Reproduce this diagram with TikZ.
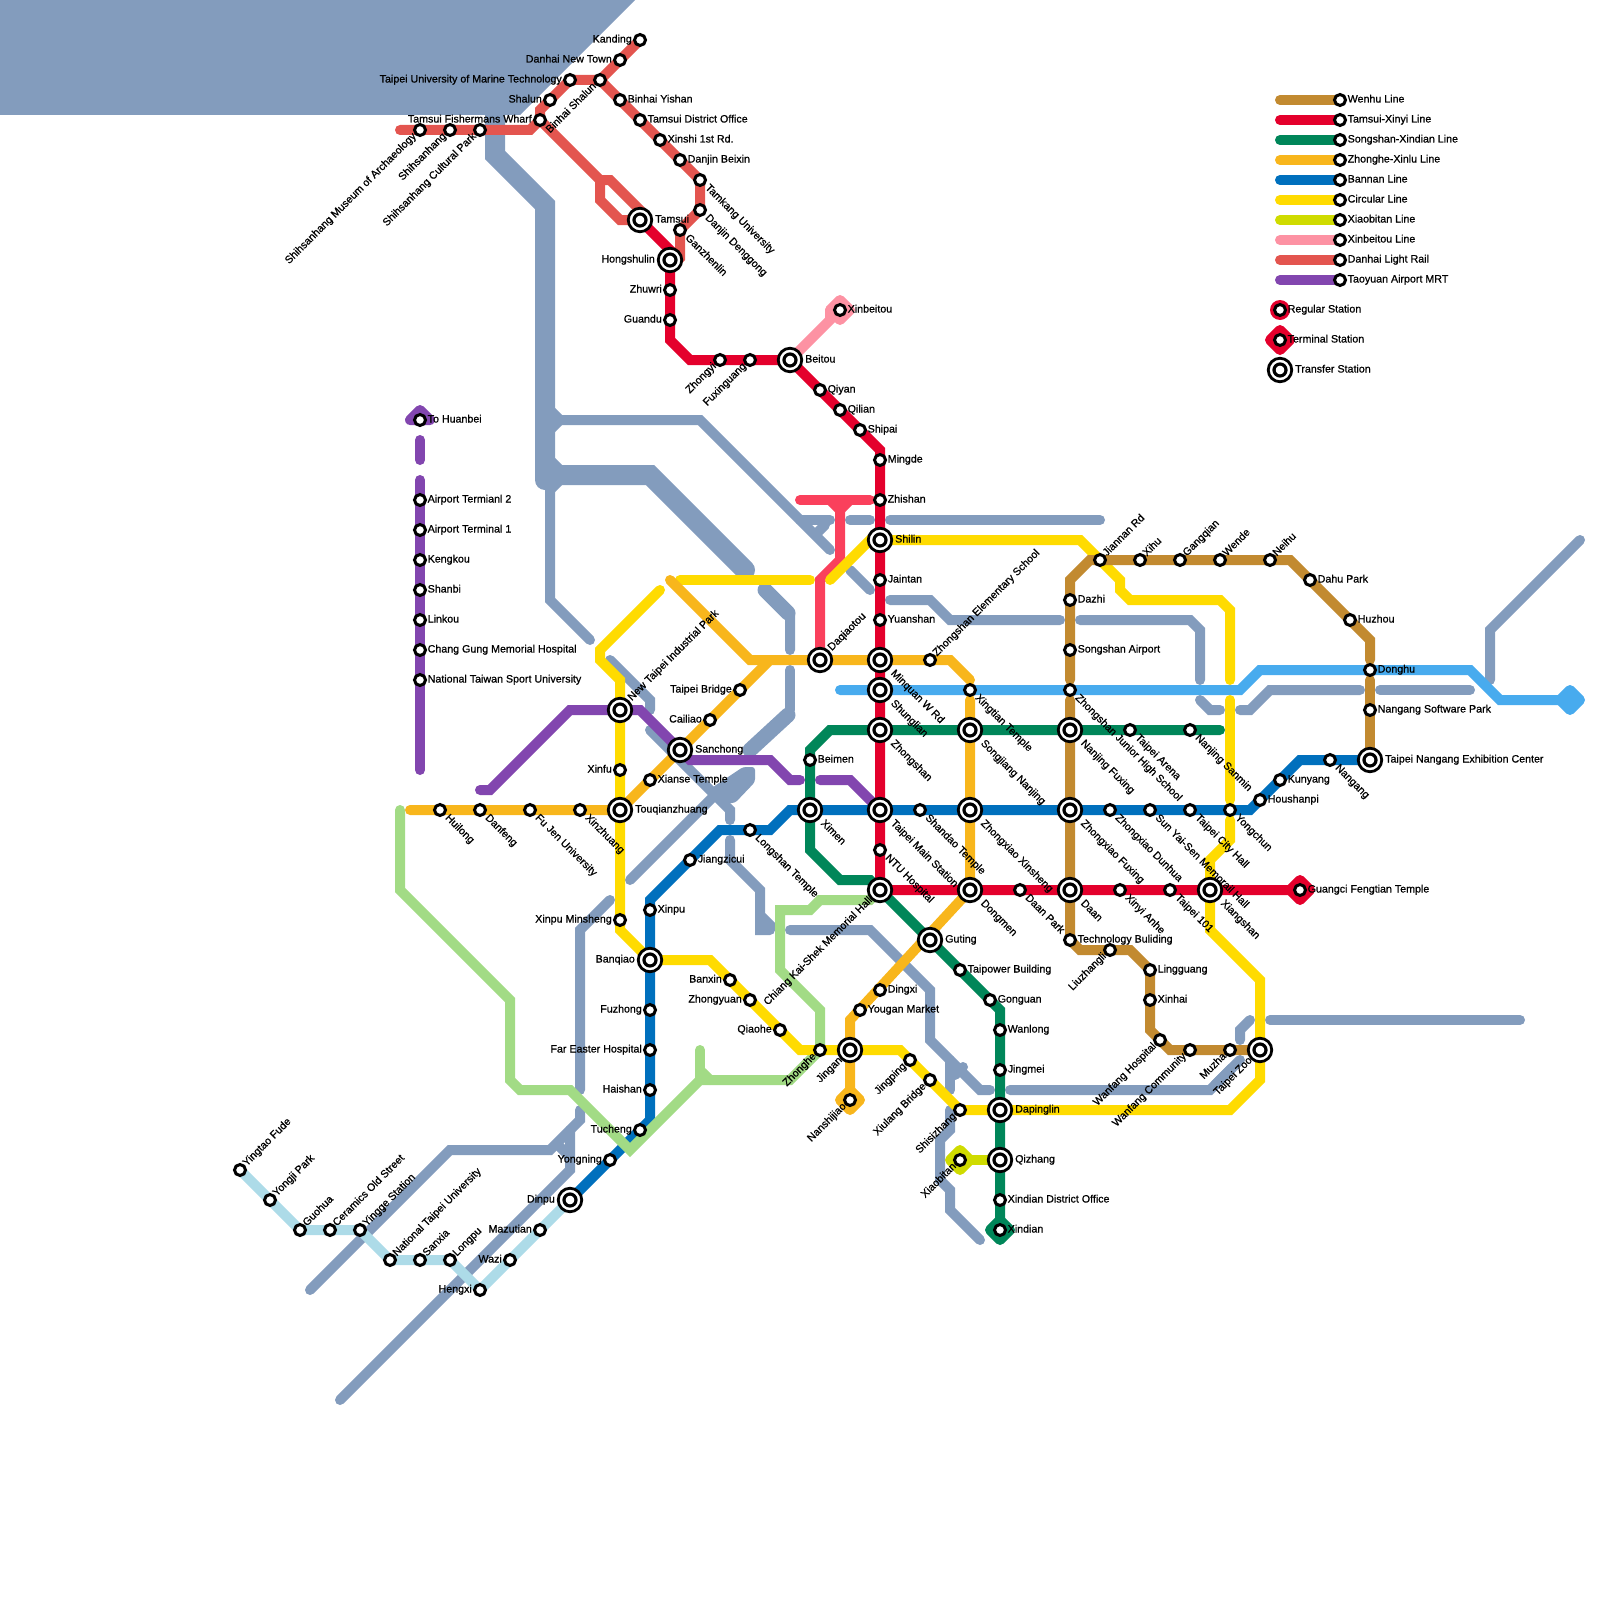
\documentclass[tikz,border=0pt]{standalone}
\usepackage{fontspec}
\setmainfont{Liberation Sans}[FakeBold=0.8]
\definecolor{cbrown}{HTML}{C28A30}
\definecolor{cred}{HTML}{E4002C}
\definecolor{cgreen}{HTML}{008659}
\definecolor{corange}{HTML}{F8B61C}
\definecolor{cblue}{HTML}{0070BD}
\definecolor{cyellow}{HTML}{FFDB00}
\definecolor{clime}{HTML}{CFDB00}
\definecolor{cpink}{HTML}{FD92A3}
\definecolor{cdanhai}{HTML}{E3554F}
\definecolor{cpurple}{HTML}{8246AF}
\definecolor{csky}{HTML}{48ABEE}
\definecolor{cpale}{HTML}{ADDBE8}
\definecolor{cwanda}{HTML}{A2DB85}
\definecolor{crose}{HTML}{FA405C}
\definecolor{criver}{HTML}{839CBD}
\tikzset{
  ln/.style={line width=10pt,line cap=round,line join=miter,miter limit=4},
  rv/.style={ln,criver},
  rvw/.style={line width=20pt,line cap=round,line join=miter,criver},
  rvm/.style={line width=15pt,line cap=round,line join=miter,criver},
  stns/.style={circle,draw=black,fill=white,line width=3pt,minimum size=11pt,inner sep=0pt},
  stnt/.style={circle,draw=black,fill=white,line width=2.8pt,minimum size=23.5pt,inner sep=0pt},
  stncore/.style={circle,draw=black,fill=white,line width=3.2pt,minimum size=12pt,inner sep=0pt},
  lab/.style={inner sep=0pt,text height=7pt,text depth=2pt,font=\fontsize{10.67}{11}\selectfont,text=black},
  labRs/.style={lab,shift={(7.5,0)},anchor=west},
  labRt/.style={lab,shift={(15,0)},anchor=west},
  labLs/.style={lab,shift={(-8,0)},anchor=east},
  labLt/.style={lab,shift={(-15,0)},anchor=east},
  labURs/.style={lab,shift={(5,-5)},rotate=45,anchor=west},
  labURt/.style={lab,shift={(10,-10.5)},rotate=45,anchor=west},
  labDRs/.style={lab,shift={(6.5,6.5)},rotate=-45,anchor=west},
  labDRt/.style={lab,shift={(12,12)},rotate=-45,anchor=west},
  labDLs/.style={lab,shift={(-5,5)},rotate=45,anchor=east},
  labDLt/.style={lab,shift={(-9,9)},rotate=45,anchor=east},
  term/.style={line width=10pt,line join=round,fill}
}
\newcommand{\termd}[2]{\draw[term,#1] ([shift={(-10,0)}]#2) -- ([shift={(0,-10)}]#2) -- ([shift={(10,0)}]#2) -- ([shift={(0,10)}]#2) -- cycle;}
\newcommand{\passA}[6]{\coordinate (#1) at (#2,#3);}
\newcommand{\passB}[6]{\node[stn#4] (#1) at (#2,#3) {};\if t#4\node[stncore] (#1-c) at (#2,#3) {};\fi\node[lab#5#4] (#1-l) at (#2,#3) {#6};}
\newcommand{\allstn}{%
% Danhai
\stn{tfw}{540}{120}{s}{L}{Tamsui Fishermans Wharf}
\stn{shalun}{550}{100}{s}{L}{Shalun}
\stn{tumt}{570}{80}{s}{L}{Taipei University of Marine Technology}
\stn{binhaish}{600}{80}{s}{DL}{Binhai Shalun}
\stn{dnt}{620}{60}{s}{L}{Danhai New Town}
\stn{kanding}{640}{40}{s}{L}{Kanding}
\stn{binhaiy}{620}{100}{s}{R}{Binhai Yishan}
\stn{tdo}{640}{120}{s}{R}{Tamsui District Office}
\stn{xinshi}{660}{140}{s}{R}{Xinshi 1st Rd.}
\stn{beixin}{680}{160}{s}{R}{Danjin Beixin}
\stn{tamkang}{700}{180}{s}{DR}{Tamkang University}
\stn{denggong}{700}{210}{s}{DR}{Danjin Denggong}
\stn{ganzhen}{680}{230}{s}{DR}{Ganzhenlin}
\stn{shmuseum}{420}{130}{s}{DL}{Shihsanhang Museum of Archaeology}
\stn{shsh}{450}{130}{s}{DL}{Shihsanhang}
\stn{shcp}{480}{130}{s}{DL}{Shihsanhang Cultural Park}
% Red
\stn{tamsui}{640}{220}{t}{R}{Tamsui}
\stn{hongshulin}{670}{260}{t}{L}{Hongshulin}
\stn{zhuwri}{670}{290}{s}{L}{Zhuwri}
\stn{guandu}{670}{320}{s}{L}{Guandu}
\stn{zhongyi}{720}{360}{s}{DL}{Zhongyi}
\stn{fuxing}{750}{360}{s}{DL}{Fuxinguang}
\stn{beitou}{790}{360}{t}{R}{Beitou}
\stn{qiyan}{820}{390}{s}{R}{Qiyan}
\stn{qilian}{840}{410}{s}{R}{Qilian}
\stn{shipai}{860}{430}{s}{R}{Shipai}
\stn{mingde}{880}{460}{s}{R}{Mingde}
\stn{zhishan}{880}{500}{s}{R}{Zhishan}
\stn{shilin}{880}{540}{t}{R}{Shilin}
\stn{jaintan}{880}{580}{s}{R}{Jaintan}
\stn{yuanshan}{880}{620}{s}{R}{Yuanshan}
\stn{minquan}{880}{660}{t}{DR}{Minquan W Rd}
\stn{shunglian}{880}{690}{t}{DR}{Shunglian}
\stn{zhongshan}{880}{730}{t}{DR}{Zhongshan}
\stn{tms}{880}{810}{t}{DR}{Taipei Main Station}
\stn{ntu}{880}{850}{s}{DR}{NTU Hospital}
\stn{cks}{880}{890}{t}{DL}{Chiang Kai-Shek Memorial Hall}
\stn{dongmen}{970}{890}{t}{DR}{Dongmen}
\stn{daanpark}{1020}{890}{s}{DR}{Daan Park}
\stn{daan}{1070}{890}{t}{DR}{Daan}
\stn{xinyi}{1120}{890}{s}{DR}{Xinyi Anhe}
\stn{tp101}{1170}{890}{s}{DR}{Taipei 101}
\stn{xiangshan}{1210}{890}{t}{DR}{Xiangshan}
\stn{guangci}{1300}{890}{s}{R}{Guangci Fengtian Temple}
% Blue
\stn{dinpu}{570}{1200}{t}{L}{Dinpu}
\stn{yongning}{610}{1160}{s}{L}{Yongning}
\stn{tucheng}{640}{1130}{s}{L}{Tucheng}
\stn{haishan}{650}{1090}{s}{L}{Haishan}
\stn{fareast}{650}{1050}{s}{L}{Far Easter Hospital}
\stn{fuzhong}{650}{1010}{s}{L}{Fuzhong}
\stn{banqiao}{650}{960}{t}{L}{Banqiao}
\stn{xinpu}{650}{910}{s}{R}{Xinpu}
\stn{jiangzicui}{690}{860}{s}{R}{Jiangzicui}
\stn{longshan}{750}{830}{s}{DR}{Longshan Temple}
\stn{ximen}{810}{810}{t}{DR}{Ximen}
\stn{shandao}{920}{810}{s}{DR}{Shandao Temple}
\stn{zxxs}{970}{810}{t}{DR}{Zhongxiao Xinsheng}
\stn{zxfx}{1070}{810}{t}{DR}{Zhongxiao Fuxing}
\stn{zxdh}{1110}{810}{s}{DR}{Zhongxiao Dunhua}
\stn{sys}{1150}{810}{s}{DR}{Sun Yai-Sen Memorail Hall}
\stn{cityhall}{1190}{810}{s}{DR}{Taipei City Hall}
\stn{yongchun}{1230}{810}{s}{DR}{Yongchun}
\stn{houshanpi}{1260}{800}{s}{R}{Houshanpi}
\stn{kunyang}{1280}{780}{s}{R}{Kunyang}
\stn{nangang}{1330}{760}{s}{DR}{Nangang}
\stn{tnec}{1370}{760}{t}{R}{Taipei Nangang Exhibition Center}
% Orange
\stn{huilong}{440}{810}{s}{DR}{Huilong}
\stn{danfeng}{480}{810}{s}{DR}{Danfeng}
\stn{fujen}{530}{810}{s}{DR}{Fu Jen University}
\stn{xinzhuang}{580}{810}{s}{DR}{Xinzhuang}
\stn{touqian}{620}{810}{t}{R}{Touqianzhuang}
\stn{xianse}{650}{780}{s}{R}{Xianse Temple}
\stn{sanchong}{680}{750}{t}{R}{Sanchong}
\stn{cailiao}{710}{720}{s}{L}{Cailiao}
\stn{tpbridge}{740}{690}{s}{L}{Taipei Bridge}
\stn{daqiaotou}{820}{660}{t}{UR}{Daqiaotou}
\stn{zses}{930}{660}{s}{UR}{Zhongshan Elementary School}
\stn{xingtian}{970}{690}{s}{DR}{Xingtian Temple}
\stn{songjiang}{970}{730}{t}{DR}{Songjiang Nanjing}
\stn{guting}{930}{940}{t}{R}{Guting}
\stn{dingxi}{880}{990}{s}{R}{Dingxi}
\stn{yougan}{860}{1010}{s}{R}{Yougan Market}
\stn{jingan}{850}{1050}{t}{DL}{Jingan}
\stn{nanshijiao}{850}{1100}{s}{DL}{Nanshijiao}
% Yellow
\stn{ntip}{620}{710}{t}{UR}{New Taipei Industrial Park}
\stn{xinfu}{620}{770}{s}{L}{Xinfu}
\stn{xpms}{620}{920}{s}{L}{Xinpu Minsheng}
\stn{banxin}{730}{980}{s}{L}{Banxin}
\stn{zhongyuan}{750}{1000}{s}{L}{Zhongyuan}
\stn{qiaohe}{780}{1030}{s}{L}{Qiaohe}
\stn{zhonghe}{820}{1050}{s}{DL}{Zhonghe}
\stn{jingping}{910}{1060}{s}{DL}{Jingping}
\stn{xiulang}{930}{1080}{s}{DL}{Xiulang Bridge}
\stn{shisizhang}{960}{1110}{s}{DL}{Shisizhang}
\stn{dapinglin}{1000}{1110}{t}{R}{Dapinglin}
\stn{tpzoo}{1260}{1050}{t}{DL}{Taipei Zoo}
\stn{jiannan}{1100}{560}{s}{UR}{Jiannan Rd}
% Green
\stn{beimen}{810}{760}{s}{R}{Beimen}
\stn{njfx}{1070}{730}{t}{DR}{Nanjing Fuxing}
\stn{arena}{1130}{730}{s}{DR}{Taipei Arena}
\stn{sanmin}{1190}{730}{s}{DR}{Nanjing Sanmin}
\stn{taipower}{960}{970}{s}{R}{Taipower Building}
\stn{gonguan}{990}{1000}{s}{R}{Gonguan}
\stn{wanlong}{1000}{1030}{s}{R}{Wanlong}
\stn{jingmei}{1000}{1070}{s}{R}{Jingmei}
\stn{qizhang}{1000}{1160}{t}{R}{Qizhang}
\stn{xddo}{1000}{1200}{s}{R}{Xindian District Office}
\stn{xindian}{1000}{1230}{s}{R}{Xindian}
\stn{xiaobitan}{960}{1160}{s}{DL}{Xiaobitan}
% Brown
\stn{xihu}{1140}{560}{s}{UR}{Xihu}
\stn{gangqian}{1180}{560}{s}{UR}{Gangqian}
\stn{wende}{1220}{560}{s}{UR}{Wende}
\stn{neihu}{1270}{560}{s}{UR}{Neihu}
\stn{dahu}{1310}{580}{s}{R}{Dahu Park}
\stn{huzhou}{1350}{620}{s}{R}{Huzhou}
\stn{donghu}{1370}{670}{s}{R}{Donghu}
\stn{nsp}{1370}{710}{s}{R}{Nangang Software Park}
\stn{dazhi}{1070}{600}{s}{R}{Dazhi}
\stn{airport}{1070}{650}{s}{R}{Songshan Airport}
\stn{zsjh}{1070}{690}{s}{DR}{Zhongshan Junior High School}
\stn{tech}{1070}{940}{s}{R}{Technology Buliding}
\stn{liuzhang}{1110}{950}{s}{DL}{Liuzhangli}
\stn{lingguang}{1150}{970}{s}{R}{Lingguang}
\stn{xinhai}{1150}{1000}{s}{R}{Xinhai}
\stn{wfhosp}{1160}{1040}{s}{DL}{Wanfang Hospital}
\stn{wfcomm}{1190}{1050}{s}{DL}{Wanfang Community}
\stn{muzha}{1230}{1050}{s}{DL}{Muzha}
\stn{xinbeitou}{840}{310}{s}{R}{Xinbeitou}
% Purple
\stn{huanbei}{420}{420}{s}{R}{To Huanbei}
\stn{t2}{420}{500}{s}{R}{Airport Termianl 2}
\stn{t1}{420}{530}{s}{R}{Airport Terminal 1}
\stn{kengkou}{420}{560}{s}{R}{Kengkou}
\stn{shanbi}{420}{590}{s}{R}{Shanbi}
\stn{linkou}{420}{620}{s}{R}{Linkou}
\stn{cghosp}{420}{650}{s}{R}{Chang Gung Memorial Hospital}
\stn{ntsu}{420}{680}{s}{R}{National Taiwan Sport University}
% Pale
\stn{yingtao}{240}{1170}{s}{UR}{Yingtao Fude}
\stn{yongji}{270}{1200}{s}{UR}{Yongji Park}
\stn{guohua}{300}{1230}{s}{UR}{Guohua}
\stn{ceramics}{330}{1230}{s}{UR}{Ceramics Old Street}
\stn{yingge}{360}{1230}{s}{UR}{Yingge Station}
\stn{ntpu}{390}{1260}{s}{UR}{National Taipei University}
\stn{sanxia}{420}{1260}{s}{UR}{Sanxia}
\stn{longpu}{450}{1260}{s}{UR}{Longpu}
\stn{hengxi}{480}{1290}{s}{L}{Hengxi}
\stn{wazi}{510}{1260}{s}{L}{Wazi}
\stn{mazutian}{540}{1230}{s}{L}{Mazutian}
% Legend
\stn{lg1}{1340}{100}{s}{R}{Wenhu Line}
\stn{lg2}{1340}{120}{s}{R}{Tamsui-Xinyi Line}
\stn{lg3}{1340}{140}{s}{R}{Songshan-Xindian Line}
\stn{lg4}{1340}{160}{s}{R}{Zhonghe-Xinlu Line}
\stn{lg5}{1340}{180}{s}{R}{Bannan Line}
\stn{lg6}{1340}{200}{s}{R}{Circular Line}
\stn{lg7}{1340}{220}{s}{R}{Xiaobitan Line}
\stn{lg8}{1340}{240}{s}{R}{Xinbeitou Line}
\stn{lg9}{1340}{260}{s}{R}{Danhai Light Rail}
\stn{lg10}{1340}{280}{s}{R}{Taoyuan Airport MRT}
\stn{lgreg}{1280}{310}{s}{R}{Regular Station}
\stn{lgterm}{1280}{340}{s}{R}{Terminal Station}
\stn{lgtrans}{1280}{370}{t}{R}{Transfer Station}
}
\begin{document}
\begin{tikzpicture}[x=1pt,y=-1pt]
\useasboundingbox (0,0) rectangle (1600,1600);
\let\stn\passA
\allstn
% ---- rivers
\fill[criver] (0,0) -- (635,0) -- (520,115) -- (0,115) -- cycle;
\draw[rvw] (495,115) -- (495,155) -- (545,205) -- (545,480);
\fill[criver] (535,480) -- (545,490) -- (555,490) -- (555,480) -- cycle;
\fill[criver] (555,458) -- (562,465) -- (562,485) -- (555,492) -- cycle;
\fill[criver] (555,408) -- (562,415) -- (562,425) -- (555,432) -- cycle;
\draw[rvw] (550,475) -- (650,475) -- (745,570);
\draw[rv] (550,490) -- (550,600) -- (590,640);
\draw[rv] (550,420) -- (700,420) -- (830,550);
\draw[rv] (850,570) -- (870,590);
\draw[rv] (800,520) -- (830,520);
\draw[rv] (817,533) -- (825,525);
\draw[rv] (850,520) -- (870,520);
\draw[rv] (890,520) -- (1100,520);
\draw[rvm] (765,590) -- (788,613);
\draw[rv] (770,595) -- (790,615) -- (790,650);
\draw[rv] (790,670) -- (790,710);
\draw[rvm] (788,715) -- (750,750);
\draw[rv] (610,660) -- (650,700) -- (650,710);
\draw[rv] (650,730) -- (710,790) -- (730,810) -- (730,820);
\fill[criver,rounded corners=3pt] (743,767) -- (755,767) -- (755,782) -- (735,803) -- (725,803) -- (707,795) -- (713,787) -- cycle;
\draw[rv] (630,880) -- (720,790);
\draw[rv] (730,840) -- (730,860) -- (760,890) -- (760,930) -- (770,930);
\draw[rv] (762,917) -- (772,927);
\draw[rv] (790,930) -- (870,930) -- (930,990) -- (930,1040) -- (980,1090) -- (990,1090);
\draw[rv] (950,1060) -- (950,1090);
\draw[rv] (955,1075) -- (963,1067);
\draw[rv] (950,1110) -- (950,1130) -- (940,1140) -- (940,1180) -- (950,1190) -- (950,1210) -- (980,1240);
\draw[rv] (1010,1090) -- (1210,1090) -- (1240,1060);
\draw[rv] (1215,1085) -- (1232,1068);
\draw[rv] (1240,1040) -- (1240,1030) -- (1250,1020);
\draw[rv] (1270,1020) -- (1520,1020);
\draw[rv] (1580,540) -- (1490,630) -- (1490,680);
\draw[rv] (1380,690) -- (1470,690);
\draw[rv] (1240,710) -- (1250,710) -- (1270,690) -- (1360,690);
\draw[rv] (1200,700) -- (1210,710) -- (1220,710);
\draw[rv] (1080,620) -- (1190,620) -- (1200,630) -- (1200,680);
\draw[rv] (890,600) -- (930,600) -- (950,620) -- (1060,620);
\draw[rv] (610,900) -- (580,930) -- (580,1090);
\draw[rv] (580,1110) -- (580,1120) -- (550,1150) -- (450,1150) -- (310,1290);
\draw[rv] (570,1130) -- (570,1170) -- (340,1400);
\draw[rv] (560,1147) -- (570,1157);
% ---- pale line
\draw[ln,cpale] (yingtao) -- (guohua) -- (yingge) -- (ntpu) -- (longpu) -- (hengxi) -- (dinpu);
% ---- blue
\draw[ln,cblue] (dinpu) -- (650,1120) -- (xinpu) -- (650,900) -- (720,830) -- (770,830) -- (790,810) -- (1250,810) -- (1300,760) -- (tnec);
% ---- light green
\draw[ln,cwanda] (400,810) -- (400,890) -- (510,1000) -- (510,1080) -- (520,1090) -- (570,1090) -- (630,1150) -- (700,1080) -- (790,1080) -- (zhonghe);
\draw[ln,cwanda] (700,1050) -- (700,1080);
\draw[ln,cwanda] (702,1072) -- (710,1080);
\draw[ln,cwanda] (cks) -- (870,900) -- (820,900) -- (810,910) -- (780,910) -- (780,970) -- (820,1010) -- (zhonghe);
% ---- Danhai, rose, pink, purple, sky, lime
\draw[ln,cdanhai] (400,130) -- (530,130) -- (tfw) -- (540,110) -- (tumt) -- (binhaish) -- (kanding);
\draw[ln,cdanhai] (binhaish) -- (tamkang) -- (denggong) -- (ganzhen) -- (680,258) -- (670,268);
\draw[ln,cdanhai] (tfw) -- (600,180) -- (610,180) -- (640,210) -- (tamsui);
\draw[ln,cdanhai] (600,180) -- (600,200) -- (620,220) -- (tamsui);
\draw[ln,crose] (800,500) -- (870,500);
\draw[ln,crose] (830,500) -- (840,510) -- (850,500);
\draw[ln,crose] (840,505) -- (840,560) -- (820,580) -- (daqiaotou);
\draw[ln,cpink] (beitou) -- (830,320) -- (830,310);
\termd{cpink}{xinbeitou}
\draw[term,cpurple] ([shift={(-10,0)}]huanbei) -- ([shift={(0,-10)}]huanbei) -- ([shift={(10,0)}]huanbei) -- cycle;
\draw[ln,cpurple] (420,440) -- (420,460);
\draw[ln,cpurple] (420,480) -- (420,770);
\draw[ln,cpurple] (480,790) -- (490,790) -- (570,710) -- (640,710) -- (sanchong) -- (690,760) -- (770,760) -- (790,780) -- (800,780);
\draw[ln,cpurple] (820,780) -- (850,780) -- (tms);
\draw[ln,csky] (840,690) -- (1240,690) -- (1260,670) -- (1470,670) -- (1500,700) -- (1570,700);
\coordinate (skyend) at (1570,700);
\termd{csky}{skyend}
\draw[ln,clime] (qizhang) -- (xiaobitan);
\termd{clime}{xiaobitan}
% ---- yellow
\draw[ln,cyellow] (680,580) -- (810,580);
\draw[ln,cyellow] (830,580) -- (870,540) -- (shilin) -- (1080,540) -- (1120,580) -- (1120,590) -- (1130,600) -- (1220,600) -- (1230,610) -- (1230,680);
\draw[ln,cyellow] (1230,700) -- (1230,800);
\draw[ln,cyellow] (1230,820) -- (1230,840) -- (1210,860) -- (1210,930) -- (1260,980) -- (1260,1080) -- (1230,1110) -- (shisizhang) -- (900,1050) -- (jingan) -- (800,1050) -- (710,960) -- (banqiao) -- (620,930) -- (620,680) -- (600,660) -- (600,650) -- (660,590);
% ---- orange
\draw[ln,corange] (410,810) -- (touqian) -- (770,660) -- (950,660) -- (970,680);
\draw[ln,corange] (670,580) -- (750,660) -- (770,660);
\draw[ln,corange] (970,700) -- (dongmen) -- (850,1020) -- (nanshijiao);
\termd{corange}{nanshijiao}
% ---- green
\draw[ln,cgreen] (1220,730) -- (830,730) -- (810,750) -- (810,850) -- (840,880) -- (870,880) -- (cks) -- (1000,1010) -- (xindian);
\termd{cgreen}{xindian}
% ---- brown
\draw[ln,cbrown] (tnec) -- (1370,680);
\draw[ln,cbrown] (1370,660) -- (1370,640) -- (1290,560) -- (1090,560) -- (1070,580) -- (1070,680);
\draw[ln,cbrown] (1070,700) -- (1070,940) -- (1080,950) -- (1130,950) -- (1150,970) -- (1150,1030) -- (1170,1050) -- (tpzoo);
% ---- red
\draw[ln,cred] (tamsui) -- (670,250) -- (guandu) -- (670,340) -- (690,360) -- (beitou) -- (880,450) -- (cks) -- (guangci);
\termd{cred}{guangci}
% ---- legend
\foreach \i/\c/\y in {1/cbrown/100,2/cred/120,3/cgreen/140,4/corange/160,5/cblue/180,6/cyellow/200,7/clime/220,8/cpink/240,9/cdanhai/260,10/cpurple/280}{
  \coordinate (lgs\i) at (1280,\y);
  \draw[ln,\c] (lgs\i) -- (lg\i);
}
\fill[cred] (lgreg) circle (10);
\termd{cred}{lgterm}
% ---- stations
\let\stn\passB
\allstn
\end{tikzpicture}
\end{document}
